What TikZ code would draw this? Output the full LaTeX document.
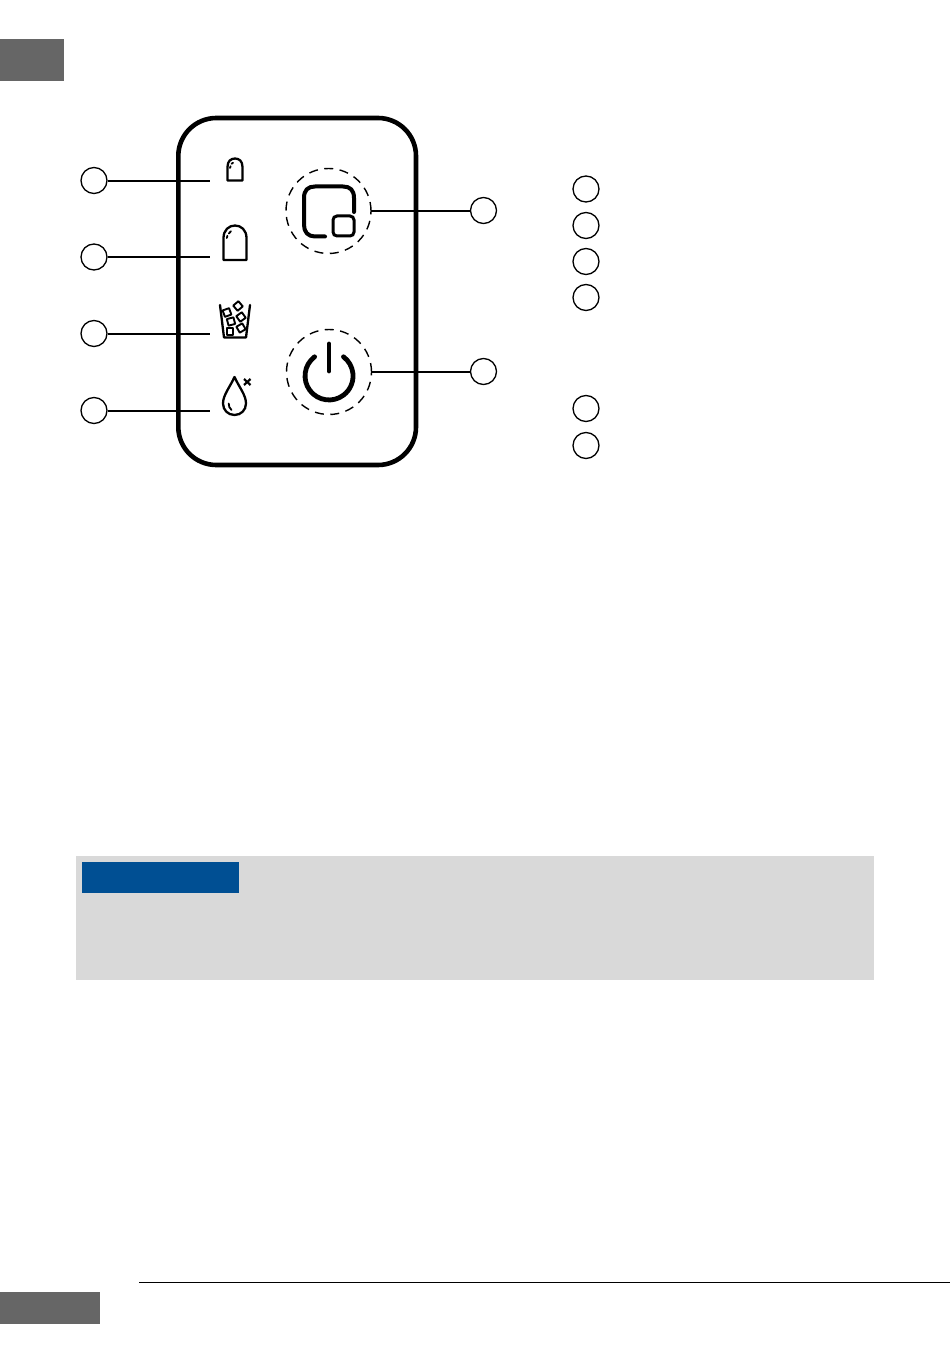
\documentclass[tikz,border=0pt]{standalone}
\usetikzlibrary{calc}
\definecolor{tabgrey}{HTML}{666666}
\definecolor{notegrey}{HTML}{D9D9D9}
\definecolor{noteblue}{HTML}{004F93}
\tikzset{
  x=1pt,y=-1pt,
  callout/.style={circle,draw=black,line width=1.3pt,minimum size=26pt,inner sep=0pt,fill=white},
  leader/.style={draw=black,line width=1.8pt},
  icon/.style={draw=black,line width=2.3pt,line join=round,line cap=round},
  heavy/.style={draw=black,line width=4pt,line join=round,line cap=round},
  ring/.style={draw=black,line width=1.4pt,dash pattern=on 9pt off 6.5pt},
  cube/.style={draw=black,line width=1.9pt,line join=round},
  glint/.style={draw=black,line width=1.8pt,line cap=round},
}
\begin{document}
\begin{tikzpicture}
\useasboundingbox (0,0) rectangle (950,1348);
\fill[tabgrey] (0,39) rectangle (64,81.3);
\fill[tabgrey] (0,1292) rectangle (100,1324);
\draw[black,line width=1.3pt] (139,1282.8) -- (950,1282.8);
\fill[notegrey] (76,856) rectangle (874,980.3);
\fill[noteblue] (81.5,861.5) rectangle (239,893);
% panel
\draw[black,line width=4.6pt,rounded corners=38pt] (178.3,118) rectangle (416,465);
% callouts
\node[callout] (c1) at (94,180.5) {};
\node[callout] (c2) at (94,257) {};
\node[callout] (c3) at (94,333.5) {};
\node[callout] (c4) at (94,410.5) {};
\node[callout] (c5) at (483.5,210.5) {};
\node[callout] (c6) at (483.5,371.5) {};
\node[callout] (l1) at (586,189) {};
\node[callout] (l2) at (586,225.5) {};
\node[callout] (l3) at (586,261.5) {};
\node[callout] (l4) at (586,297.5) {};
\node[callout] (l5) at (586,408.5) {};
\node[callout] (l6) at (586,445.5) {};
\coordinate (e1) at (210,181);
\coordinate (e2) at (210,257);
\coordinate (e3) at (210,334);
\coordinate (e4) at (210,411);
\coordinate (e5) at (370.5,211);
\coordinate (e6) at (371,372);
\draw[leader] (c1.east |- e1) -- (e1);
\draw[leader] (c2.east |- e2) -- (e2);
\draw[leader] (c3.east |- e3) -- (e3);
\draw[leader] (c4.east |- e4) -- (e4);
\draw[leader] (c5.west |- e5) -- (e5);
\draw[leader] (c6.west |- e6) -- (e6);
% small bottle
\draw[icon] (227.5,180.5) -- (227.5,167) .. controls (227.5,161) and (231,158.5) .. (235,158.5) .. controls (239,158.5) and (242.5,161) .. (242.5,167) -- (242.5,180.5) -- cycle;
\draw[glint] (230,168) -- (230.6,166.2);
\draw[glint] (231.5,163.8) -- (233,162.8);
% large bottle
\draw[icon] (223.5,260) -- (223.5,238) .. controls (223.5,230) and (229,225.5) .. (235,225.5) .. controls (241,225.5) and (246.5,230) .. (246.5,238) -- (246.5,260) -- cycle;
\draw[glint] (226.8,238) -- (227.4,235.8);
\draw[glint] (228.7,233.6) -- (231,231.2);
% bucket
\draw[icon] (220,305) -- (224,337.5) -- (246,337.5) -- (250,305);
\draw[cube,rotate around={40:(238,306)}] (234.6,302.6) rectangle (241.4,309.4);
\draw[cube,rotate around={20:(227,312.5)}] (223.6,309.1) rectangle (230.4,315.9);
\draw[cube,rotate around={35:(241,317)}] (237.6,313.6) rectangle (244.4,320.4);
\draw[cube,rotate around={15:(231,321.5)}] (227.6,318.1) rectangle (234.4,324.9);
\draw[cube,rotate around={30:(241,328)}] (237.6,324.6) rectangle (244.4,331.4);
\draw[cube] (226.6,328) rectangle (233.4,334.8);
% drop
\draw[icon] (234.5,377) .. controls (230,387) and (223,395) .. (223,403.5) .. controls (223,410) and (228,415) .. (234.5,415) .. controls (241,415) and (246,410) .. (246,403.5) .. controls (246,395) and (239,387) .. (234.5,377) -- cycle;
\draw[glint] (228.7,403.5) .. controls (228.7,406) and (229.5,408.5) .. (231.5,410);
\draw[black,line width=2.2pt] (244,379) -- (250.5,385) (250.5,379) -- (244,385);
% mode button
\node[circle,ring,minimum size=85pt,inner sep=0pt] (b1) at (328.5,211) {};
\draw[heavy] (354,212) -- (354,198) .. controls (354,190) and (350,186.5) .. (343,186.5) -- (315,186.5) .. controls (308,186.5) and (304,190) .. (304,198) -- (304,225) .. controls (304,232) and (308,236.5) .. (315,236.5) -- (325,236.5);
\draw[black,line width=3pt,rounded corners=4pt] (333,216) rectangle (354,236);
% power button
\node[circle,ring,minimum size=85pt,inner sep=0pt] (b2) at (329,372) {};
\draw[heavy,line width=4.8pt] (329,344) -- (329,371);
\draw[heavy,line width=4.8pt] (314.6,356.8) arc[start angle=127,end angle=413,radius=24pt];
\end{tikzpicture}
\end{document}
